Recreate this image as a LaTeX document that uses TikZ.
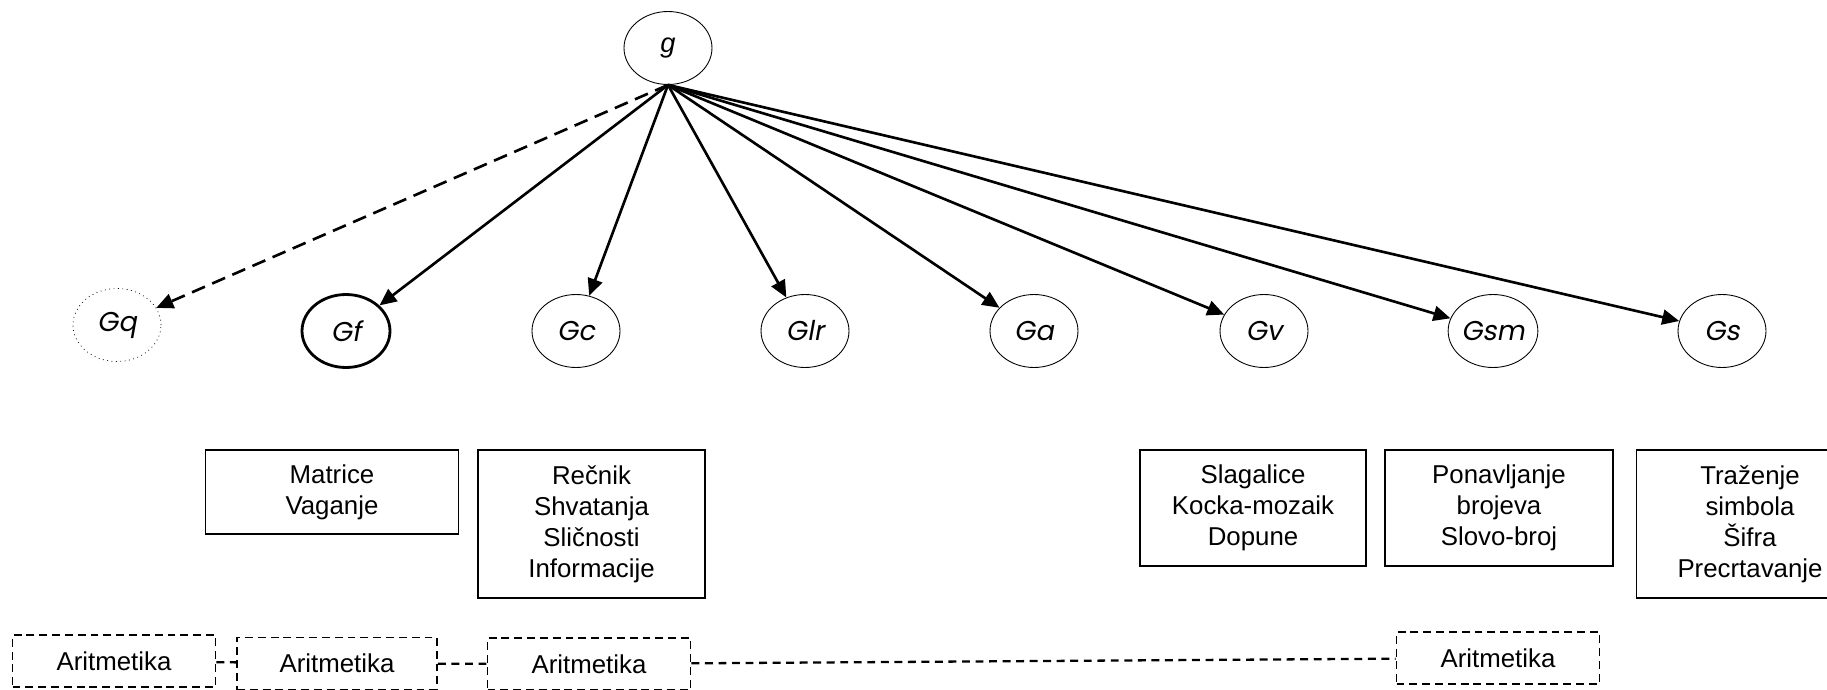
\documentclass[tikz,border=0pt]{standalone}
\usepackage{fontspec}
\setmainfont{Liberation Sans}
\newfontfamily\gfont{Poppins}[FakeSlant=0.18]
\usepackage{tikz}
\usetikzlibrary{arrows.meta,shapes.geometric}

\begin{document}
\begin{tikzpicture}[x=0.02cm, y=-0.02cm, every node/.style={font=\fontsize{14.7}{17.6}\selectfont}]

% Define styles
\tikzstyle{factor} = [draw, ellipse, line width=0.5pt, minimum width=1.76cm, minimum height=1.46cm, inner sep=0pt, font=\fontsize{15.5}{18}\selectfont\gfont]
\tikzstyle{link} = [line width=1.5pt, -{Triangle[length=0.34cm, width=0.3cm]}]
\tikzstyle{subtest} = [draw, line width=0.9pt, align=center, inner sep=0pt]
\tikzstyle{optional} = [draw, dash pattern=on 4.5pt off 2.8pt, line width=1.1pt, minimum width=4.06cm, minimum height=1.04cm, inner sep=0pt]
\tikzstyle{optlink} = [dash pattern=on 4.5pt off 3.2pt, line width=1.3pt]

\useasboundingbox (0,0) rectangle (1827,690);

% General factor
\node[factor, font=\fontsize{15.5}{18}\selectfont\itshape] (g) at (668,48) {g};

% Broad abilities
\node[factor, dotted, line width=0.4pt] (Gq) at (117,325) {Gq};
\node[factor, line width=1.6pt] (Gf) at (346,331) {Gf};
\foreach \name/\x in {Gc/576, Glr/805, Ga/1034, Gv/1264, Gsm/1493, Gs/1722}
  \node[factor] (\name) at (\x,331) {\name};

% Arrows from g
\draw[link, dash pattern=on 8pt off 4.5pt] (g.south) -- (Gq);
\foreach \name in {Gf,Gc,Glr,Ga,Gv,Gsm,Gs}
  \draw[link] (g.south) -- (\name);

% Subtests
\node[subtest, minimum width=5.06cm, minimum height=1.68cm] (fsub) at (332,492) {Matrice\\Vaganje};
\node[subtest, minimum width=4.54cm, minimum height=2.96cm] (csub) at (591.5,524) {Rečnik\\Shvatanja\\Sličnosti\\Informacije};
\node[subtest, minimum width=4.52cm, minimum height=2.32cm] (vsub) at (1253,508) {Slagalice\\Kocka-mozaik\\Dopune};
\node[subtest, minimum width=4.56cm, minimum height=2.32cm] (smsub) at (1499,508) {Ponavljanje\\brojeva\\Slovo-broj};
\node[subtest, minimum width=4.54cm, minimum height=2.96cm] (ssub) at (1750,524) {Traženje\\simbola\\Šifra\\Precrtavanje};

% Aritmetika (optional)
\node[optional] (ar1) at (114,661) {Aritmetika};
\node[optional, minimum width=4cm] (ar2) at (337,663.5) {Aritmetika};
\node[optional] (ar3) at (589,664) {Aritmetika};
\node[optional] (ar4) at (1498,658) {Aritmetika};
\draw[optlink] (ar1) -- (ar2);
\draw[optlink] (ar2) -- (ar3);
\draw[optlink] (ar3) -- (ar4);

\end{tikzpicture}
\end{document}
